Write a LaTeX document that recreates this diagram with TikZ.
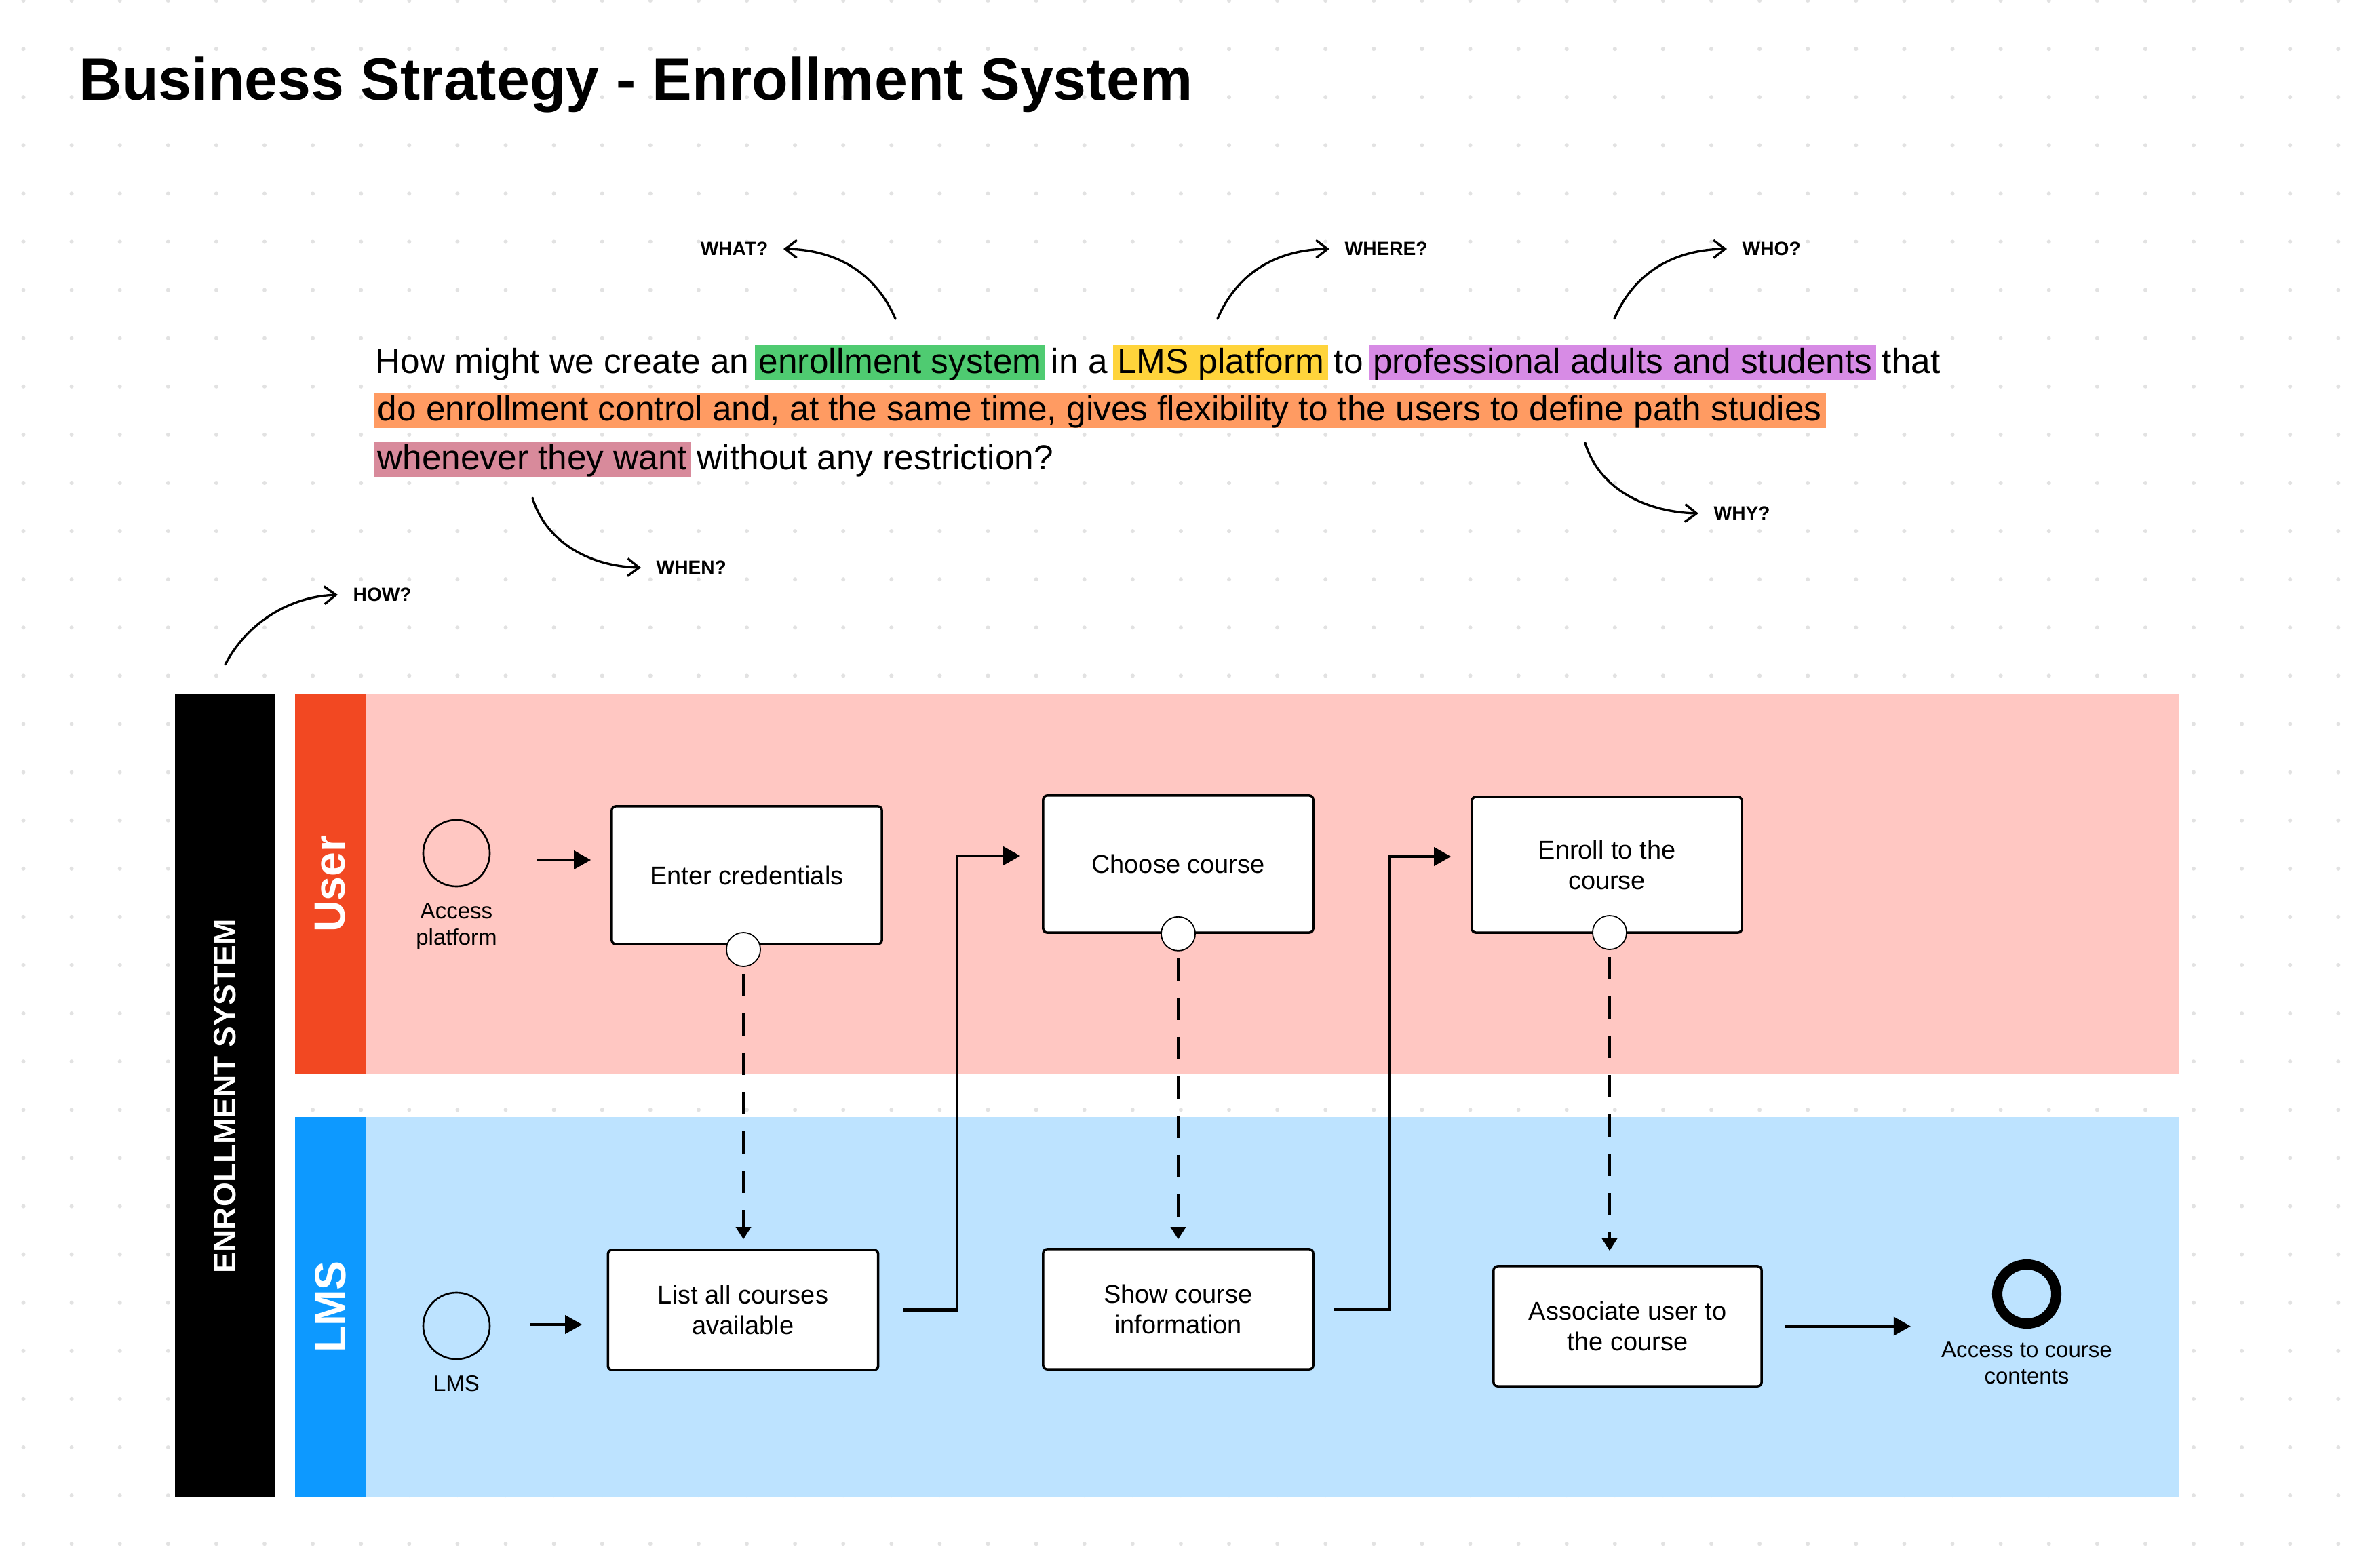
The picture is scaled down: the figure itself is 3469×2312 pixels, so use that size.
\documentclass[tikz,border=0pt]{standalone}
\usepackage{fontspec}
\setmainfont{Liberation Sans}
\usetikzlibrary{positioning,arrows.meta}

\definecolor{dotgrey}{HTML}{E2E2E2}
\definecolor{userred}{HTML}{F24822}
\definecolor{userpink}{HTML}{FFC7C2}
\definecolor{lmsblue}{HTML}{0D99FF}
\definecolor{lmslight}{HTML}{BDE3FF}
\definecolor{hlgreen}{HTML}{4FCB71}
\definecolor{hlyellow}{HTML}{FFD43B}
\definecolor{hlpurple}{HTML}{D78BE5}
\definecolor{hlorange}{HTML}{FF9B62}
\definecolor{hlpink}{HTML}{D88A9B}

\newcommand{\ttlfont}{\fontsize{25}{30}\selectfont\bfseries}
\newcommand{\hmwfont}{\fontsize{14.6}{17.5}\selectfont}
\newcommand{\stepfont}{\fontsize{10.8}{12.8}\selectfont}
\newcommand{\evfont}{\fontsize{9.4}{11}\selectfont}
\newcommand{\whfont}{\fontsize{8}{9.6}\selectfont\bfseries}
\newcommand{\sysfont}{\fontsize{13.1}{15.7}\selectfont\bfseries}
\newcommand{\lanefont}{\fontsize{18.3}{22}\selectfont\bfseries}

\tikzset{
  hmw/.style={inner xsep=0pt, inner ysep=0pt, text height=0.41cm, text depth=0.105cm, font=\hmwfont},
  hilite/.style={hmw, inner xsep=0.06cm, fill=#1},
}

\begin{document}
\begin{tikzpicture}[x=0.01cm, y=-0.01cm,
    box/.style={draw, line width=1pt, fill=white, rounded corners=0.06cm, minimum width=3.98cm, align=center, font=\stepfont, inner sep=0pt},
    knob/.style={draw, circle, fill=white, line width=0.5pt, minimum size=0.5cm, inner sep=0pt},
    event/.style={draw, circle, line width=0.75pt, minimum size=0.98cm, inner sep=0pt},
    evlabel/.style={font=\evfont, align=center, inner sep=0pt},
    flow/.style={line width=1.15pt, -{Triangle[length=0.25cm, width=0.27cm]}},
    msg/.style={line width=1pt, dash pattern=on 0.33cm off 0.25cm, -{Triangle[length=0.18cm, width=0.22cm]}},
    ask/.style={line width=0.95pt, line cap=round, -{Straight Barb[length=0.17cm, width=0.26cm]}},
    qtag/.style={font=\whfont, inner xsep=0.22cm, inner ysep=0pt}]

    \useasboundingbox (0,0) rectangle (3469,2312);
    \fill[white] (0,0) rectangle (3469,2312);

    % dot grid
    \foreach \i in {0,...,48}
        \foreach \j in {0,...,32}
            \fill[dotgrey] (34.5+71.1*\i, 1+71.1*\j) circle[radius=0.03cm];

    \node[font=\ttlfont, anchor=base west, inner sep=0pt] (title) at (116,147.6) {Business Strategy - Enrollment System};

    % how might we
    \node[hmw, anchor=west] (l1a) at (553,535) {How might we create an};
    \node[hilite=hlgreen, right=0.07cm of l1a] (l1b) {enrollment system};
    \node[hmw, right=0.07cm of l1b] (l1c) {in a};
    \node[hilite=hlyellow, right=0.07cm of l1c] (l1d) {LMS platform};
    \node[hmw, right=0.07cm of l1d] (l1e) {to};
    \node[hilite=hlpurple, right=0.07cm of l1e] (l1f) {professional adults and students};
    \node[hmw, right=0.07cm of l1f] (l1g) {that};
    \node[hilite=hlorange, anchor=west] (l2a) at (550,605) {do enrollment control and, at the same time, gives flexibility to the users to define path studies};
    \node[hilite=hlpink, anchor=west] (l3a) at (550,677.5) {whenever they want};
    \node[hmw, right=0.07cm of l3a] (l3b) {without any restriction?};

    % questions
    \node[qtag, anchor=east] (what) at (1155,367) {WHAT?};
    \node[qtag, anchor=west] (where) at (1960,367) {WHERE?};
    \node[qtag, anchor=west] (who) at (2546,367) {WHO?};
    \node[qtag, anchor=west] (when) at (945,837) {WHEN?};
    \node[qtag, anchor=west] (why) at (2504,757) {WHY?};
    \node[qtag, anchor=west] (how) at (498,877) {HOW?};
    \coordinate (whatS) at (1320,470);
    \coordinate (whereS) at (1795,470);
    \coordinate (whoS) at (2380,470);
    \coordinate (whenS) at (785,734);
    \coordinate (whyS) at (2337,653);
    \coordinate (howS) at (332,980);
    \draw[ask] (whatS) .. controls (1290,400) and (1230,368) .. (what.east);
    \draw[ask] (whereS) .. controls (1825,400) and (1885,368) .. (where.west);
    \draw[ask] (whoS) .. controls (2410,400) and (2470,368) .. (who.west);
    \draw[ask] (whenS) .. controls (805,800) and (870,835) .. (when.west);
    \draw[ask] (whyS) .. controls (2357,720) and (2425,755) .. (why.west);
    \draw[ask] (howS) .. controls (360,925) and (420,880) .. (how.west);

    % lanes
    \fill[black] (258,1023) rectangle (405,2208);
    \fill[userred] (435,1023) rectangle (540,1584);
    \fill[userpink] (540,1023) rectangle (3212,1584);
    \fill[lmsblue] (435,1647) rectangle (540,2208);
    \fill[lmslight] (540,1647) rectangle (3212,2208);
    \node[rotate=90, font=\sysfont, text=white] (sys) at (332,1616) {ENROLLMENT SYSTEM};
    \node[rotate=90, font=\lanefont, text=white] (userhd) at (487,1303) {User};
    \node[rotate=90, font=\lanefont, text=white] (lmshd) at (487,1927) {LMS};

    % user lane
    \node[event] (startU) at (673,1258) {};
    \node[evlabel, below=0.23cm of startU] (startUlbl) {Access\\platform};
    \node[box, minimum height=2.03cm] (cred) at (1101,1290.5) {Enter credentials};
    \node[box, minimum height=2.02cm] (choose) at (1737,1274) {Choose course};
    \node[box, minimum height=2.0cm] (enroll) at (2369,1275) {Enroll to the\\course};
    \node[knob] (k1) at (1096,1400) {};
    \node[knob] (k2) at (choose.south) {};
    \node[knob] (k3) at (2373,1375) {};

    % lms lane
    \node[event] (startL) at (673,1955) {};
    \node[evlabel, below=0.22cm of startL] (startLlbl) {LMS};
    \node[box, minimum height=1.77cm] (list) at (1095.5,1931.5) {List all courses\\available};
    \node[box, minimum height=1.77cm] (show) at (1737,1930.5) {Show course\\information};
    \node[box, minimum width=3.95cm, minimum height=1.77cm] (assoc) at (2399.5,1955.5) {Associate user to\\the course};
    \node[event, line width=4.3pt, minimum size=0.87cm] (endC) at (2988,1908) {};
    \node[evlabel, below=0.19cm of endC] (endClbl) {Access to course\\contents};

    % connectors
    \coordinate (uIn) at (791,1268);
    \coordinate (lIn) at (781,1953);
    \coordinate (j1) at (1411,1262);
    \coordinate (j2) at (2049,1263);
    \draw[flow, shorten >=0.29cm] (uIn) -- (uIn -| cred.west);
    \draw[flow, shorten >=0.365cm] (lIn) -- (lIn -| list.west);
    \draw[flow, shorten >=0.32cm] ([xshift=0.35cm]list.east) -| (j1) -- (choose.west |- j1);
    \draw[flow, shorten >=0.29cm] ([xshift=0.28cm]show.east) -| (j2) -- (enroll.west |- j2);
    \draw[flow, shorten >=1.2cm] ([xshift=0.32cm]assoc.east) -- (assoc.east -| endC.west);
    \draw[msg, shorten <=0.1cm, shorten >=0.14cm] (k1.south) -- (k1.south |- list.north);
    \draw[msg, shorten <=0.1cm, shorten >=0.13cm] (k2.south) -- (k2.south |- show.north);
    \draw[msg, shorten <=0.1cm, shorten >=0.21cm] (k3.south) -- (k3.south |- assoc.north);

\end{tikzpicture}
\end{document}
